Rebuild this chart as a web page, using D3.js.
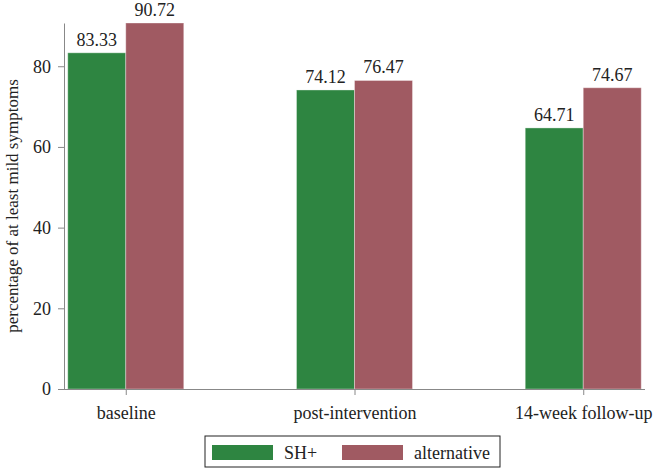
<!DOCTYPE html>
<html>
<head>
<script src="https://d3js.org/d3.v7.min.js"></script>
</head>
<body style="margin:0">
<script>
const categories = ["baseline", "post-intervention", "14-week follow-up"];
const seriesNames = ["SH+", "alternative"];
const shPlus = [83.33, 74.12, 64.71];
const alternative = [90.72, 76.47, 74.67];
const yTicks = [0, 20, 40, 60, 80];
const colors = ["#2e8541", "#a05a62"];

const fontName = "Liberation Serif";
const width = 657, height = 468;
const margin = { top: 23, right: 12, bottom: 79, left: 64 };

const svg = d3.select("body").append("svg")
    .attr("width", width)
    .attr("height", height);

const x = d3.scalePoint()
    .domain(categories)
    .range([margin.left, width - margin.right])
    .padding(0.27);

const y = d3.scaleLinear()
    .domain([0, d3.max(alternative.concat(shPlus))])
    .range([height - margin.bottom, margin.top]);

const barW = 58;
const series = [shPlus, alternative];

// bars and value labels
series.forEach((vals, s) => {
    svg.append("g").selectAll("rect")
        .data(vals)
        .enter()
        .append("rect")
        .attr("x", (d, i) => x(categories[i]) + (s - 1) * barW)
        .attr("y", d => y(d))
        .attr("width", barW)
        .attr("height", d => y(0) - y(d))
        .attr("fill", colors[s])
        .attr("stroke", "#fff")
        .attr("stroke-opacity", 0.35);

    svg.append("g").selectAll("text")
        .data(vals)
        .enter()
        .append("text")
        .attr("x", (d, i) => x(categories[i]) + (s - 0.5) * barW)
        .attr("y", d => y(d) - 7)
        .attr("text-anchor", "middle")
        .style("font-family", fontName)
        .style("font-size", "18px")
        .attr("fill", "#222")
        .text(d => d.toFixed(2));
});

// y axis
const yAxis = svg.append("g")
    .attr("transform", `translate(${margin.left},0)`)
    .call(d3.axisLeft(y).tickValues(yTicks).tickSize(6).tickPadding(7).tickSizeOuter(0));
yAxis.selectAll("path, line").attr("stroke", "#888");
yAxis.selectAll("text")
    .style("font-family", fontName)
    .style("font-size", "18px")
    .attr("fill", "#222");

// x axis
const xAxis = svg.append("g")
    .attr("transform", `translate(0,${y(0)})`)
    .call(d3.axisBottom(x).tickSize(6).tickPadding(11).tickSizeOuter(0));
xAxis.select(".domain").attr("d", `M${margin.left - 6},0.5H${width - margin.right}`);
xAxis.selectAll("path, line").attr("stroke", "#888");
xAxis.selectAll("text")
    .style("font-family", fontName)
    .style("font-size", "18px")
    .attr("fill", "#222");

svg.append("text")
    .attr("transform", `translate(18,${(y(0) + margin.top) / 2}) rotate(-90)`)
    .attr("text-anchor", "middle")
    .style("font-family", fontName)
    .style("font-size", "17px")
    .attr("fill", "#222")
    .text("percentage of at least mild symptoms");

// legend
const lg = svg.append("g").attr("transform", "translate(205,436)");
lg.append("rect")
    .attr("width", 295).attr("height", 31)
    .attr("fill", "none").attr("stroke", "#222");
const legendX = [7, 137];
lg.selectAll(".sw").data(seriesNames).enter().append("rect")
    .attr("x", (d, i) => legendX[i]).attr("y", 9)
    .attr("width", 61).attr("height", 15)
    .attr("fill", (d, i) => colors[i]);
lg.selectAll(".lt").data(seriesNames).enter().append("text")
    .attr("x", (d, i) => legendX[i] + 72).attr("y", 23)
    .style("font-family", fontName)
    .style("font-size", "18px")
    .attr("fill", "#222")
    .text(d => d);
</script>
</body>
</html>
